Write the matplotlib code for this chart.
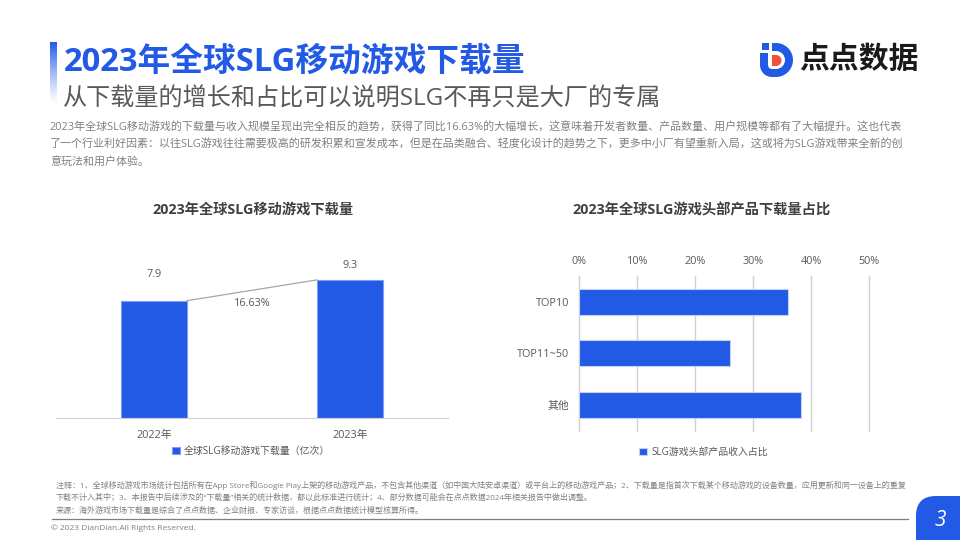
import matplotlib
matplotlib.use('Agg')
import matplotlib.pyplot as plt
from matplotlib.patches import Rectangle, FancyBboxPatch, Wedge
import numpy as np

plt.rcParams['font.family'] = ['Open Sans', 'Noto Sans CJK SC', 'DejaVu Sans']

# data
years = ['2022年', '2023年']
downloads = [7.9, 9.3]
growth_label = '16.63%'
groups = ['TOP10', 'TOP11~50', '其他']
shares = [36.0, 25.9, 38.2]
share_ticks = [0, 10, 20, 30, 40, 50]

BLUE = '#225AE6'
GREY = '#595959'
W, H = 960, 540

intro = ['2023年全球SLG移动游戏的下载量与收入规模呈现出完全相反的趋势，获得了同比16.63%的大幅增长，这意味着开发者数量、产品数量、用户规模等都有了大幅提升。这也代表',
         '了一个行业利好因素：以往SLG游戏往往需要极高的研发积累和宣发成本，但是在品类融合、轻度化设计的趋势之下，更多中小厂有望重新入局，这或将为SLG游戏带来全新的创',
         '意玩法和用户体验。']
notes = ['注释：1、全球移动游戏市场统计包括所有在App Store和Google Play上架的移动游戏产品，不包含其他渠道（如中国大陆安卓渠道）或平台上的移动游戏产品；2、下载量是指首次下载某个移动游戏的设备数量，应用更新和同一设备上的重复',
         '下载不计入其中；3、本报告中后续涉及的“下载量”相关的统计数据，都以此标准进行统计；4、部分数据可能会在点点数据2024年相关报告中做出调整。',
         '来源：海外游戏市场下载量是综合了点点数据、企业财报、专家访谈，根据点点数据统计模型核算所得。']

fig = plt.figure(figsize=(W / 100, H / 100), dpi=100, facecolor='white')

# page layer in pixel coordinates
bg = fig.add_axes([0, 0, 1, 1])
bg.axis('off')

# fading accent bar next to the title
rgba = np.ones((64, 1, 4))
rgba[:, 0, 0] = 0x22 / 255
rgba[:, 0, 1] = 0x5A / 255
rgba[:, 0, 2] = 0xE6 / 255
rgba[:, 0, 3] = (1 - np.linspace(0, 1, 64)) ** 1.3
bg.imshow(rgba, extent=(50, 56.5, 106, 42), aspect='auto', zorder=1)
bg.set_xlim(0, W)
bg.set_ylim(H, 0)

bg.text(64, 62, '2023年全球SLG移动游戏下载量', fontsize=23.55, fontweight='bold', color=BLUE, va='center')
bg.text(63, 99, '从下载量的增长和占比可以说明SLG不再只是大厂的专属', fontsize=17.35, color=GREY, va='center')

for i, line in enumerate(intro):
    bg.text(50, 128 + i * 17.3, line, fontsize=7.95, color='#808080', va='center')

bg.text(252.5, 210, '2023年全球SLG移动游戏下载量', fontsize=10.3, fontweight='bold', color='#404040', ha='center', va='center')
bg.text(701.5, 210, '2023年全球SLG游戏头部产品下载量占比', fontsize=10.3, fontweight='bold', color='#404040', ha='center', va='center')

for i, line in enumerate(notes):
    bg.text(56, 485 + i * 12.6, line, fontsize=5.8, color='#808080', va='center')

bg.plot([52, 908], [518.5, 518.5], color='#7F7F7F', lw=0.9)
bg.text(51, 528, '© 2023 DianDian.All Rights Reserved.', fontsize=6.0, color='#808080', va='center')

# page number tab
bg.add_patch(FancyBboxPatch((916, 496), 80, 80, boxstyle='round,pad=0,rounding_size=20', fc=BLUE, ec='none'))
bg.text(940.5, 520, '3', fontsize=15, color='white', style='italic', ha='center', va='center')

# logo
bg.add_patch(Rectangle((762, 43), 7, 7, fc=BLUE, ec='none'))
bg.add_patch(Rectangle((760, 53), 8, 12, fc=BLUE, ec='none'))
bg.add_patch(Wedge((772, 65), 12, 90, 180, width=8, fc=BLUE, ec='none'))
bg.add_patch(Rectangle((771.5, 43), 5, 8, fc=BLUE, ec='none'))
bg.add_patch(Rectangle((771.5, 69), 5, 8, fc=BLUE, ec='none'))
bg.add_patch(Wedge((776, 60), 17, -90, 90, width=8, fc=BLUE, ec='none'))
bg.add_patch(Rectangle((772, 55), 4, 11, fc='#F2503C', ec='none'))
bg.add_patch(Wedge((776, 60.5), 5.5, -90, 90, fc='#F2503C', ec='none'))
bg.text(858.5, 60, '点点数据', fontsize=21.5, fontweight='bold', color='#1A1A1A', ha='center', va='center')


def px_axes(x0, y0, x1, y1):
    return fig.add_axes([x0 / W, 1 - y1 / H, (x1 - x0) / W, (y1 - y0) / H])


# left chart
ax = px_axes(56, 250, 448, 418)
ax.patch.set_alpha(0)
xpos = np.arange(len(years))
ax.bar(xpos, downloads, width=66 / 196, color=BLUE, edgecolor='#7F9DEF', linewidth=0.8, label='全球SLG移动游戏下载量（亿次）')
ax.set_xlim(-0.5, 1.5)
ax.set_ylim(0, 168 / 14.85)
ax.plot([xpos[0] + 33 / 196, xpos[1] - 33 / 196], downloads, color='#A6A6A6', lw=0.9)
for x, v, off in zip(xpos, downloads, [26, 14.5]):
    ax.annotate(str(v), (x, v), xytext=(0, off), textcoords='offset pixels', ha='center', va='center', fontsize=7.8, color=GREY)
ax.text(0.5, 7.68, growth_label, fontsize=7.8, color=GREY, ha='center', va='center')
ax.set_xticks(xpos, years, fontsize=7.8, color=GREY)
ax.set_yticks([])
ax.tick_params(axis='x', length=0, pad=8.5)
for s in ['top', 'left', 'right']:
    ax.spines[s].set_visible(False)
ax.spines['bottom'].set_color('#D0D0D0')
ax.legend(loc='upper center', bbox_to_anchor=(0.497, -0.165), frameon=False, fontsize=7.1, labelcolor=GREY,
          handlelength=0.8, handleheight=0.8, handletextpad=0.4, borderpad=0, borderaxespad=0)

# right chart
ax2 = px_axes(579.3, 276, 869.3, 430.7)
ax2.patch.set_alpha(0)
ypos = np.arange(len(groups))
ax2.barh(ypos, shares, height=0.5, color=BLUE, edgecolor='#C3D1F7', linewidth=0.8, zorder=3, label='SLG游戏头部产品收入占比')
ax2.set_xlim(0, 50)
ax2.set_ylim(2.5, -0.5)
ax2.set_xticks(share_ticks, [f'{t}%' for t in share_ticks], fontsize=7.8, color=GREY)
ax2.set_yticks(ypos, groups, fontsize=7.8, color=GREY)
ax2.xaxis.tick_top()
ax2.tick_params(axis='x', length=0, pad=6.5)
ax2.tick_params(axis='y', length=0, pad=7.5)
ax2.grid(axis='x', color='#D0D0D0', lw=1, zorder=0, clip_on=False)
ax2.set_axisbelow(True)
for s in ax2.spines.values():
    s.set_visible(False)
ax2.legend(loc='upper center', bbox_to_anchor=(0.428, -0.105), frameon=False, fontsize=7.1, labelcolor=GREY,
           handlelength=0.8, handleheight=0.8, handletextpad=0.4, borderpad=0, borderaxespad=0)

fig.savefig('out.png', dpi=100)
